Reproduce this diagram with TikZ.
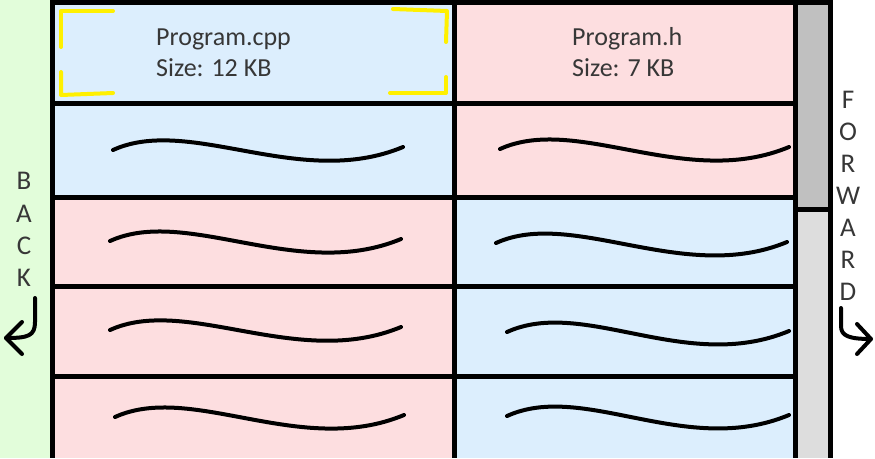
\documentclass[tikz,border=0pt]{standalone}
\usepackage{fontspec}
\setmainfont{Carlito}
\definecolor{cblue}{RGB}{220,238,253}
\definecolor{cpink}{RGB}{253,222,224}
\definecolor{cgreen}{RGB}{226,253,218}
\definecolor{sbdark}{RGB}{192,192,192}
\definecolor{sblight}{RGB}{221,221,221}
\definecolor{hl}{RGB}{255,240,0}
\definecolor{txt}{RGB}{55,55,55}
\begin{document}
\begin{tikzpicture}[x=1pt,y=-1pt,
  gridline/.style={line width=5pt,black},
  squig/.style={line width=4pt,line cap=round,black},
  hlc/.style={line width=4pt,hl,line cap=round,line join=round},
  hookarrow/.style={line width=4pt,line cap=round,line join=round,black},
  lbl/.style={font=\fontsize{26}{31}\selectfont,text=txt,inner sep=0pt,anchor=base west},
  letter/.style={font=\fontsize{27}{32}\selectfont,text=txt,inner sep=0pt,anchor=base}]
\useasboundingbox (0,0) rectangle (875,458);
\fill[white] (0,0) rectangle (875,458);
\fill[cgreen] (0,0) rectangle (50,458);
% cells
\fill[cblue] (55,5) rectangle (454.5,197.5);
\fill[cpink] (55,197.5) rectangle (454.5,458);
\fill[cpink] (454.5,5) rectangle (795.5,197.5);
\fill[cblue] (454.5,197.5) rectangle (795.5,458);
% scrollbar
\fill[sbdark] (795.5,5) rectangle (830.5,209.5);
\fill[sblight] (795.5,209.5) rectangle (830.5,458);
% grid
\draw[gridline] (50,2.5) -- (833,2.5);
\foreach \yy in {103,197.5,286.5,376.5} \draw[gridline] (52.5,\yy) -- (795.5,\yy);
\foreach \xx in {52.5,454.5,795.5,830.5} \draw[gridline] (\xx,0) -- (\xx,458);
\draw[gridline] (795.5,209.5) -- (830.5,209.5);
% header text
\node[lbl] (cppname) at (156,45) {Program.cpp};
\node[lbl] (cppsize) at (156,76) {Size: 12 KB};
\node[lbl] (hname) at (572,45) {Program.h};
\node[lbl] (hsize) at (572,76) {Size: 7 KB};
% yellow selection corners
\draw[hlc] (61,47) -- (61,11) -- (113,11);
\draw[hlc] (61,72) -- (61,95) -- (113,93);
\draw[hlc] (393,9) -- (447,11) -- (446,42);
\draw[hlc] (446,77) -- (446,93) -- (390,93);
% squiggles
\draw[squig] (113,150) .. controls +(77,-35) and +(-103,43) .. (403,147);
\draw[squig] (500,149) .. controls +(77,-35) and +(-103,43) .. (789,147);
\draw[squig] (110,241) .. controls +(77,-35) and +(-103,43) .. (401,239);
\draw[squig] (496,243) .. controls +(77,-35) and +(-103,43) .. (787,242);
\draw[squig] (110,330) .. controls +(77,-35) and +(-103,43) .. (401,327);
\draw[squig] (507,332) .. controls +(77,-35) and +(-103,43) .. (789,331);
\draw[squig] (115,417) .. controls +(77,-35) and +(-103,43) .. (404,415);
\draw[squig] (507,416) .. controls +(77,-35) and +(-103,43) .. (789,415);
% BACK
\node[letter] (b1) at (24,189.5) {B};
\node[letter] (b2) at (24,222) {A};
\node[letter] (b3) at (24,254) {C};
\node[letter] (b4) at (24,286.5) {K};
\coordinate (bs) at (35,298);
\coordinate (bt) at (6,338);
\draw[hookarrow] (bs) -- (35,322) .. controls (35,336) and (28,338) .. (bt);
\draw[hookarrow] (22,322) -- (bt) -- (22,354);
% FORWARD
\node[letter] (f1) at (848,108) {F};
\node[letter] (f2) at (848,140) {O};
\node[letter] (f3) at (848,172) {R};
\node[letter] (f4) at (848,204) {W};
\node[letter] (f5) at (848,236) {A};
\node[letter] (f6) at (848,268) {R};
\node[letter] (f7) at (848,300) {D};
\coordinate (fs) at (841,308);
\coordinate (ft) at (871,339);
\draw[hookarrow] (fs) -- (841,326) .. controls (841,336) and (849,339) .. (ft);
\draw[hookarrow] (857,324) -- (ft) -- (857,354);
\end{tikzpicture}
\end{document}
